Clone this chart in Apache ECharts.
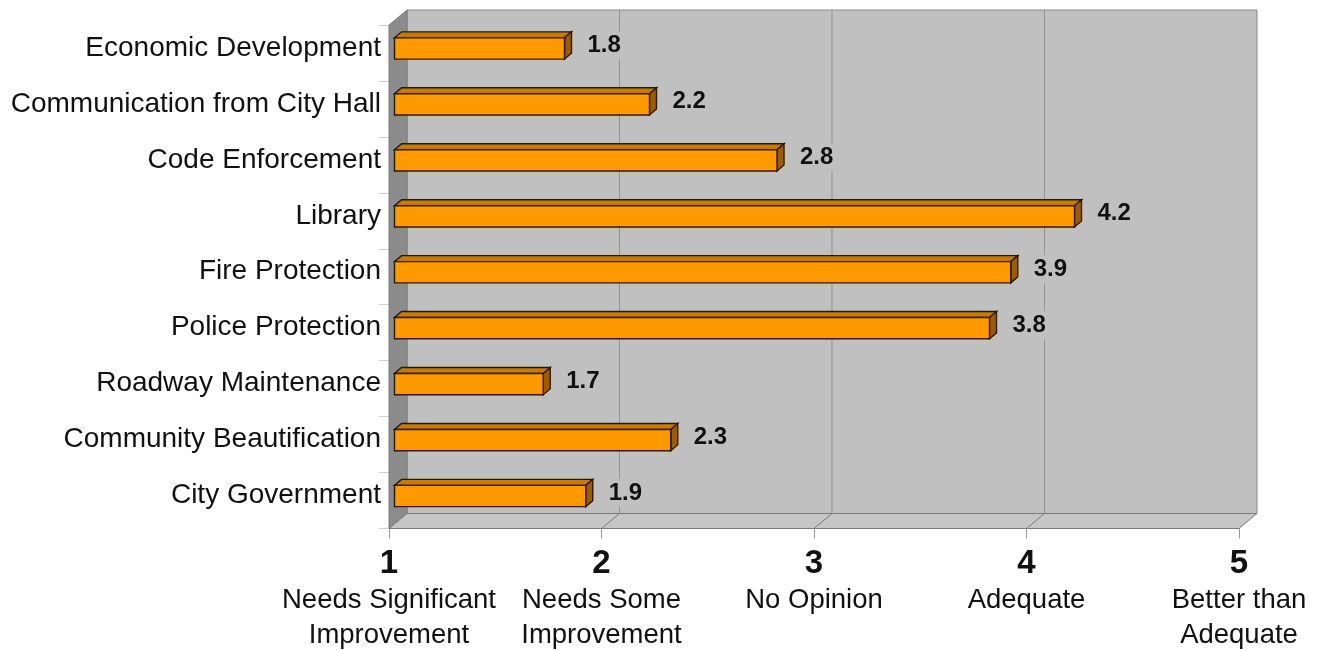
<!DOCTYPE html>
<html><head><meta charset="utf-8">
<script src="https://cdn.jsdelivr.net/npm/echarts@6/dist/echarts.min.js"></script>
<style>html,body{margin:0;padding:0;background:#fff}#c{width:1321px;height:650px}</style>
</head><body><div id="c"></div>
<script>
const categories = ['Economic Development','Communication from City Hall','Code Enforcement','Library','Fire Protection','Police Protection','Roadway Maintenance','Community Beautification','City Government'];
const ratings = [1.8, 2.2, 2.8, 4.2, 3.9, 3.8, 1.7, 2.3, 1.9];
const scaleTicks = [1, 2, 3, 4, 5];
const scaleNames = ['Needs Significant\nImprovement', 'Needs Some\nImprovement', 'No Opinion', 'Adequate', 'Better than\nAdequate'];

const FONT = '"Liberation Sans", Arial, Helvetica, sans-serif';
const DX = 18, DY = -15;          // depth of the 3D box
const BFX = 5.5, BFY = -4.5;      // bar front plane offset
const BDX = 7, BDY = -6;          // bar depth

function renderWalls(params, api) {
  const cs = params.coordSys;
  const x0 = cs.x, x1 = cs.x + cs.width, y0 = cs.y, y1 = cs.y + cs.height;
  const bx0 = x0 + DX, bx1 = x1 + DX, by0 = y0 + DY, by1 = y1 + DY;
  const children = [
    {type: 'polygon', shape: {points: [[bx0, by0], [bx1, by0], [bx1, by1], [bx0, by1]]},
     style: {fill: '#c0c0c0', stroke: '#8a8a8a', lineWidth: 1}},
    {type: 'polygon', shape: {points: [[x0, y0], [bx0, by0], [bx0, by1], [x0, y1]]},
     style: {fill: '#8c8c8c', stroke: '#7a7a7a', lineWidth: 1}},
    {type: 'polygon', shape: {points: [[x0, y1], [x1, y1], [bx1, by1], [bx0, by1]]},
     style: {fill: '#c6c6c6', stroke: '#7a7a7a', lineWidth: 1}}
  ];
  scaleTicks.slice(1, -1).forEach(function (v) {
    const px = api.coord([v, 0])[0];
    children.push({type: 'line', shape: {x1: px + DX, y1: by0, x2: px + DX, y2: by1},
      style: {stroke: '#939393', lineWidth: 1}});
    children.push({type: 'line', shape: {x1: px + DX, y1: by1, x2: px, y2: y1},
      style: {stroke: '#7a7a7a', lineWidth: 1}});
  });
  return {type: 'group', children: children};
}

function renderBar(params, api) {
  const v = api.value(0), c = api.value(1);
  const s = api.coord([1, c]), e = api.coord([v, c]);
  const band = api.size([0, 1])[1];
  const h = band * 0.38;
  const xl = s[0] + BFX, xr = e[0] + BFX, yc = s[1] + BFY;
  const yt = yc - h / 2, yb = yc + h / 2;
  const stroke = '#2a1a00';
  return {type: 'group', children: [
    {type: 'polygon', shape: {points: [[xl, yt], [xr, yt], [xr + BDX, yt + BDY], [xl + BDX, yt + BDY]]},
     style: {fill: '#c97a00', stroke: stroke, lineWidth: 1.4}},
    {type: 'polygon', shape: {points: [[xr, yt], [xr + BDX, yt + BDY], [xr + BDX, yb + BDY], [xr, yb]]},
     style: {fill: '#9a5c06', stroke: stroke, lineWidth: 1.4}},
    {type: 'rect', shape: {x: xl, y: yt, width: xr - xl, height: yb - yt},
     style: {fill: '#ff9900', stroke: stroke, lineWidth: 1.4}},
    {type: 'text', x: xr + 20, y: yc - 3,
     style: {text: v.toFixed(1), fill: '#111', fontSize: 24, fontWeight: 'bold', fontFamily: FONT,
             align: 'left', verticalAlign: 'middle', backgroundColor: '#c0c0c0', padding: [2, 3]}}
  ]};
}

const chart = echarts.init(document.getElementById('c'));
chart.setOption({
  backgroundColor: '#ffffff',
  animation: false,
  grid: {left: 389, right: 82, top: 25, bottom: 121.5, containLabel: false},
  xAxis: {
    type: 'value', min: 1, max: 5, interval: 1,
    splitLine: {show: false},
    axisLine: {show: true, lineStyle: {color: '#555', width: 1.2}},
    axisTick: {show: true, length: 10, lineStyle: {color: '#9a9a9a'}},
    axisLabel: {
      margin: 17,
      formatter: function (v) {
        const i = scaleTicks.indexOf(v);
        return '{n|' + v + '}\n{t|' + scaleNames[i].split('\n').join('}\n{t|') + '}';
      },
      rich: {
        n: {fontSize: 33, fontWeight: 'bold', fontFamily: FONT, color: '#111', lineHeight: 37, align: 'center'},
        t: {fontSize: 27.5, fontFamily: FONT, color: '#111', lineHeight: 35, align: 'center'}
      }
    }
  },
  yAxis: {
    type: 'category', data: categories, inverse: true,
    axisLine: {show: false},
    axisTick: {show: true, length: 10, lineStyle: {color: '#d0d0d0'}},
    axisLabel: {fontSize: 28, fontFamily: FONT, color: '#111', margin: 8,
                verticalAlign: 'bottom', lineHeight: 10}
  },
  series: [
    {type: 'custom', z: 1, silent: true, renderItem: renderWalls, data: [[1, 0]]},
    {type: 'custom', z: 3, renderItem: renderBar,
     encode: {x: 0, y: 1},
     data: ratings.map(function (r, i) { return [r, i]; })}
  ]
});
</script>
</body></html>
